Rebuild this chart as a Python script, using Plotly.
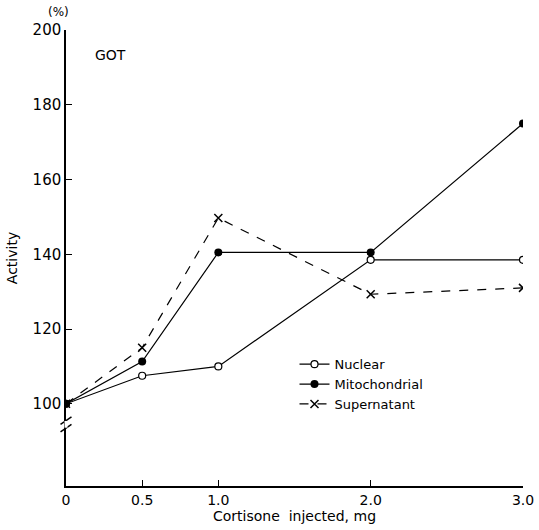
import plotly.graph_objects as go

dose = [0, 0.5, 1.0, 2.0, 3.0]
nuclear = [100, 107.5, 110, 138.5, 138.5]
mito = [100, 111.3, 140.5, 140.5, 175]
supern = [100, 115, 149.7, 129.3, 131]
xticks = [0, 0.5, 1.0, 2.0, 3.0]
xticklabels = ["0", "0.5", "1.0", "2.0", "3.0"]
yticks = [100, 120, 140, 160, 180, 200]

FONT = "DejaVu Sans"

fig = go.Figure()
fig.add_trace(go.Scatter(x=dose, y=nuclear, name="Nuclear", mode="lines+markers",
                         line=dict(color="black", width=1.2),
                         marker=dict(symbol="circle", size=7, color="white",
                                     line=dict(color="black", width=1.2))))
fig.add_trace(go.Scatter(x=dose, y=mito, name="Mitochondrial", mode="lines+markers",
                         line=dict(color="black", width=1.2),
                         marker=dict(symbol="circle", size=8, color="black")))
fig.add_trace(go.Scatter(x=dose, y=supern, name="Supernatant", mode="lines+markers",
                         line=dict(color="black", width=1.2, dash="dash"),
                         marker=dict(symbol="x-thin-open", size=8,
                                     line=dict(color="black", width=1.5))))

fig.update_layout(
    width=539, height=530,
    margin=dict(l=66, r=16, t=30, b=44, autoexpand=False),
    paper_bgcolor="white", plot_bgcolor="white",
    font=dict(family=FONT, size=14, color="black"),
    showlegend=True,
    legend=dict(x=0.5, y=0.30, xanchor="left", yanchor="top",
                bgcolor="rgba(0,0,0,0)", font=dict(size=13),
                itemwidth=30, tracegroupgap=0),
    xaxis=dict(range=[0, 3.0], tickmode="array", tickvals=xticks, ticktext=xticklabels,
               showline=True, linecolor="black", linewidth=1.5, ticks="inside",
               ticklen=6, tickcolor="black", showgrid=False, zeroline=False,
               automargin=False, ticklabeloverflow="allow",
               title=dict(text="Cortisone  injected, mg", standoff=2, font=dict(size=14))),
    yaxis=dict(range=[78, 200], tickmode="array", tickvals=yticks,
               showline=True, linecolor="black", linewidth=1.5, ticks="inside",
               ticklen=6, tickcolor="black", showgrid=False, zeroline=False,
               tickfont=dict(size=15), automargin=False,
               title=dict(text="Activity", standoff=12, font=dict(size=14))),
)

# axis break marks
for yy in (93.5, 95.5):
    fig.add_shape(type="line", xref="paper", yref="y", x0=-0.012, x1=0.012,
                  y0=yy - 1, y1=yy + 1, line=dict(color="black", width=1.5))
fig.add_shape(type="line", xref="paper", yref="y", x0=0, x1=0, y0=93.6, y1=95.4,
              line=dict(color="white", width=3))

fig.add_annotation(text="(%)", xref="paper", yref="paper", x=0.0, y=1.0,
                   xanchor="center", yanchor="bottom", showarrow=False,
                   font=dict(size=12), xshift=-8, yshift=9)
fig.add_annotation(text="GOT", xref="paper", yref="paper", x=0.06, y=0.945,
                   xanchor="left", yanchor="middle", showarrow=False,
                   font=dict(size=14))

fig.write_html("out.html")
